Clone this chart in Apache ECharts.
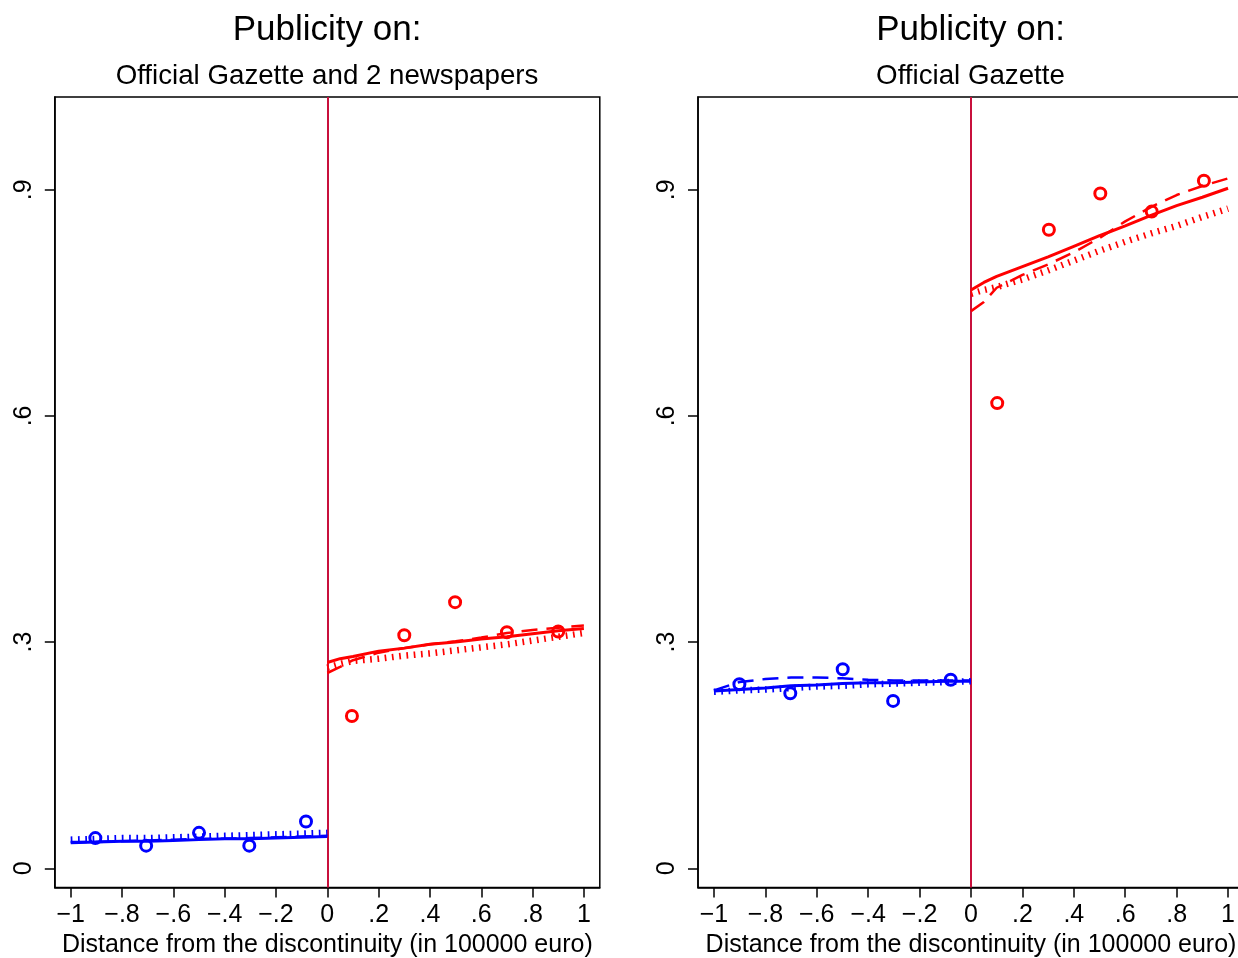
<!DOCTYPE html>
<html>
<head>
<meta charset="utf-8">
<title>Publicity regression discontinuity</title>
<script src="https://cdn.jsdelivr.net/npm/echarts@6/dist/echarts.min.js"></script>
<style>
  html, body { margin: 0; padding: 0; background: #fff; }
  #chart { width: 1238px; height: 958px; }
</style>
</head>
<body>
<div id="chart"></div>
<script>
// Tick positions on both axes
const xTicks = [-1, -0.8, -0.6, -0.4, -0.2, 0, 0.2, 0.4, 0.6, 0.8, 1];
const yTicks = [0, 0.3, 0.6, 0.9];

// Evaluation points of the fitted curves, left and right of the threshold
const xNeg = [-1, -0.9, -0.8, -0.7, -0.6, -0.5, -0.4, -0.3, -0.2, -0.1, 0];
const xPos = [0, 0.05, 0.1, 0.2, 0.3, 0.4, 0.5, 0.6, 0.7, 0.8, 0.9, 1];

// Panel A: Official Gazette and 2 newspapers
const aBlueBinX = [-0.904, -0.706, -0.50, -0.304, -0.083];
const aBlueBinY = [0.040, 0.030, 0.047, 0.030, 0.062];
const aRedBinX  = [0.096, 0.300, 0.498, 0.700, 0.900];
const aRedBinY  = [0.202, 0.309, 0.353, 0.313, 0.314];
const aBlueSolid = [0.034, 0.035, 0.036, 0.036, 0.037, 0.038, 0.039, 0.039, 0.040, 0.041, 0.042];
const aBlueDash  = [0.035, 0.035, 0.036, 0.037, 0.038, 0.039, 0.039, 0.040, 0.041, 0.042, 0.043];
const aBlueDot   = [0.038, 0.039, 0.040, 0.040, 0.041, 0.042, 0.043, 0.044, 0.045, 0.046, 0.047];
const aRedSolid  = [0.273, 0.278, 0.281, 0.288, 0.292, 0.297, 0.300, 0.304, 0.307, 0.311, 0.315, 0.318];
const aRedDash   = [0.259, 0.267, 0.276, 0.286, 0.292, 0.297, 0.301, 0.306, 0.312, 0.316, 0.319, 0.322];
const aRedDot    = [0.266, 0.271, 0.275, 0.278, 0.282, 0.285, 0.289, 0.293, 0.297, 0.302, 0.307, 0.312];

// Panel B: Official Gazette
const bBlueBinX = [-0.901, -0.703, -0.499, -0.303, -0.079];
const bBlueBinY = [0.244, 0.232, 0.264, 0.222, 0.250];
const bRedBinX  = [0.102, 0.303, 0.503, 0.703, 0.906];
const bRedBinY  = [0.617, 0.847, 0.895, 0.871, 0.912];
const bBlueSolid = [0.235, 0.237, 0.239, 0.242, 0.243, 0.245, 0.246, 0.246, 0.247, 0.248, 0.248];
const bBlueDash  = [0.236, 0.247, 0.251, 0.253, 0.253, 0.252, 0.250, 0.249, 0.249, 0.249, 0.249];
const bBlueDot   = [0.234, 0.236, 0.237, 0.239, 0.241, 0.242, 0.244, 0.245, 0.246, 0.247, 0.248];
const bRedSolid  = [0.767, 0.777, 0.785, 0.798, 0.811, 0.825, 0.839, 0.852, 0.866, 0.879, 0.890, 0.902];
const bRedDash   = [0.739, 0.751, 0.770, 0.787, 0.801, 0.817, 0.836, 0.858, 0.877, 0.893, 0.905, 0.915];
const bRedDot    = [0.762, 0.767, 0.771, 0.781, 0.793, 0.806, 0.819, 0.831, 0.842, 0.852, 0.864, 0.875];

const titles = ['Publicity on:', 'Publicity on:'];
const subtitles = ['Official Gazette and 2 newspapers', 'Official Gazette'];
const xName = 'Distance from the discontinuity (in 100000 euro)';

const FONT = "'Liberation Sans', Arial, Helvetica, sans-serif";
const BLUE = '#0000ff';
const RED = '#ff0000';
const CUTOFF = '#c8103c';

function zip(xs, ys) { return xs.map((x, i) => [x, ys[i]]); }

function stataNum(v) {
  if (Math.abs(v) < 1e-9) return '0';
  let s = Number(Math.abs(v).toFixed(1)).toString().replace(/^0\./, '.');
  return (v < 0 ? '\u2212' : '') + s;
}

const panels = [
  { left: 54.8, width: 545, center: 327,
    blueBin: zip(aBlueBinX, aBlueBinY), redBin: zip(aRedBinX, aRedBinY),
    blue: [aBlueSolid, aBlueDash, aBlueDot], red: [aRedSolid, aRedDash, aRedDot] },
  { left: 698, width: 546, center: 970.5,
    blueBin: zip(bBlueBinX, bBlueBinY), redBin: zip(bRedBinX, bRedBinY),
    blue: [bBlueSolid, bBlueDash, bBlueDot], red: [bRedSolid, bRedDash, bRedDot] }
];

const grids = [], xAxes = [], yAxes = [], series = [], titleList = [];

const lineKinds = [
  { width: 3, type: 'solid', z: 5 },
  { width: 2.5, type: [16, 9], z: 4 },
  { width: 6.5, type: [1.7, 5.6], z: 3 }
];

panels.forEach((p, i) => {
  grids.push({
    left: p.left, top: 97, width: p.width, height: 790.5,
    outerBoundsMode: 'none', containLabel: false,
    show: true, borderColor: '#000', borderWidth: 1.5, backgroundColor: 'transparent'
  });
  xAxes.push({
    gridIndex: i, type: 'value', min: -1.062, max: 1.062,
    axisLine: { show: true, onZero: false, lineStyle: { color: '#000', width: 1.5 } },
    axisTick: { show: true, length: 10, customValues: xTicks, lineStyle: { color: '#000', width: 1.5 } },
    axisLabel: { customValues: xTicks, formatter: stataNum, fontSize: 25, fontFamily: FONT,
                 color: '#000', margin: 15 },
    splitLine: { show: false },
    name: xName, nameLocation: 'middle', nameGap: 44,
    nameTextStyle: { fontSize: 25, fontFamily: FONT, color: '#000' }
  });
  yAxes.push({
    gridIndex: i, type: 'value', min: -0.0255, max: 1.023,
    axisLine: { show: true, onZero: false, lineStyle: { color: '#000', width: 1.5 } },
    axisTick: { show: true, length: 10, customValues: yTicks, lineStyle: { color: '#000', width: 1.5 } },
    axisLabel: { customValues: yTicks, formatter: stataNum, fontSize: 25, fontFamily: FONT,
                 color: '#000', rotate: 90, margin: 18 },
    splitLine: { show: false }
  });

  titleList.push({
    text: titles[i], left: p.center, top: 13, textAlign: 'center', padding: 0,
    textStyle: { fontSize: 35, fontWeight: 'normal', fontFamily: FONT, color: '#000' }
  });
  titleList.push({
    text: subtitles[i], left: p.center, top: 62, textAlign: 'center', padding: 0,
    textStyle: { fontSize: 27.7, fontWeight: 'normal', fontFamily: FONT, color: '#000' }
  });

  // binned means
  [[p.blueBin, BLUE], [p.redBin, RED]].forEach(([data, color], k) => {
    const s = {
      type: 'scatter', xAxisIndex: i, yAxisIndex: i, data: data,
      symbol: 'circle', symbolSize: 11, z: 2,
      itemStyle: { color: 'rgba(255,255,255,0)', borderColor: color, borderWidth: 3, opacity: 1 },
      silent: true
    };
    if (k === 0) {
      s.markLine = {
        silent: true, symbol: 'none', label: { show: false },
        lineStyle: { color: CUTOFF, width: 2, type: 'solid', opacity: 1 },
        data: [{ xAxis: 0 }], z: 1
      };
    }
    series.push(s);
  });

  // fitted curves: solid, dashed, dotted
  lineKinds.forEach((kind, k) => {
    series.push({
      type: 'line', xAxisIndex: i, yAxisIndex: i, data: zip(xNeg, p.blue[k]),
      showSymbol: false, symbol: 'none', z: kind.z, silent: true,
      lineStyle: { color: BLUE, width: kind.width, type: kind.type, cap: 'butt' }
    });
    series.push({
      type: 'line', xAxisIndex: i, yAxisIndex: i, data: zip(xPos, p.red[k]),
      showSymbol: false, symbol: 'none', z: kind.z, silent: true,
      lineStyle: { color: RED, width: kind.width, type: kind.type, cap: 'butt' }
    });
  });
});

const chart = echarts.init(document.getElementById('chart'), null, { renderer: 'canvas' });
chart.setOption({
  backgroundColor: '#fff',
  animation: false,
  title: titleList,
  grid: grids,
  xAxis: xAxes,
  yAxis: yAxes,
  series: series
});
</script>
</body>
</html>
